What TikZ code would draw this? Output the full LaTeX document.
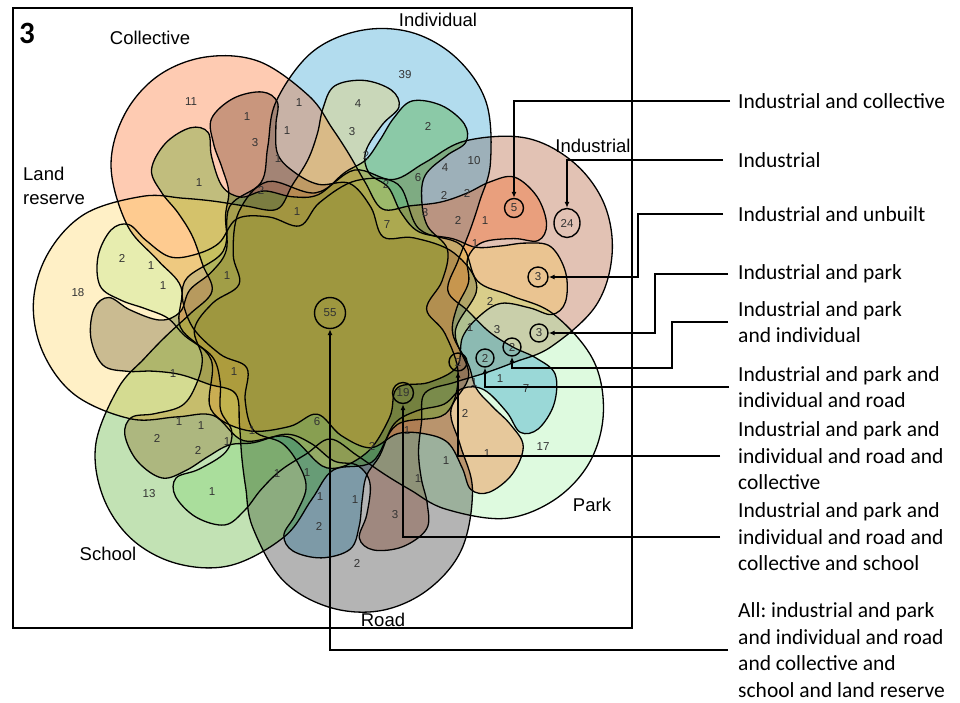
\documentclass[tikz,border=0pt]{standalone}
\usepackage{fontspec}
\setmainfont{Liberation Sans}
\newfontfamily\carlito{Carlito}
\usepackage{tikz}
\usetikzlibrary{arrows.meta,shapes.geometric}
\frenchspacing

\definecolor{indcol}{RGB}{158,52,5}
\definecolor{parkcol}{RGB}{145,240,148}
\definecolor{indivcol}{RGB}{0,138,198}
\definecolor{roadcol}{RGB}{5,5,5}
\definecolor{collcol}{RGB}{252,82,0}
\definecolor{schoolcol}{RGB}{52,158,5}
\definecolor{landcol}{RGB}{255,205,65}

% one set of the flower: lobe along +x, dip near the middle, two hooked fingers clockwise
\def\petalpath{plot[smooth cycle,tension=0.6] coordinates {(0:297) (10:289) (20:266) (30:223) (36:182) (43:152) (58:150) (74:126) (92:150)
 (108:140) (124:116) (137:97) (150:118) (162:136) (175:134) (184:150) (188:172) (186:200) (184:222) (187:236) (194:240) (201:232)
 (204:210) (206:185) (209:162) (216:146) (227:124) (239:127) (249:143) (258:150) (261:170) (258:200) (255:222) (258:236) (265:240)
 (272:232) (275:210) (277:185) (281:160) (289:138) (299:121) (310:140) (318:165) (324:190) (330:223) (340:266) (350:289)}}

\tikzset{
  setlabel/.style={font=\fontsize{18.5}{24}\selectfont,inner sep=0pt},
  count/.style={font=\fontsize{11.5}{12}\selectfont,text=black!80,inner sep=0pt},
  ringed/.style={circle,draw,line width=1.4pt,inner sep=0pt,minimum size=#1,font=\fontsize{11.5}{12}\selectfont,text=black!80},
  ringed/.default=18pt,
  callout/.style={line width=1.4pt,->,>={Latex[length=6pt,width=5pt]}},
  legend/.style={font=\carlito\fontsize{21.5}{26.5}\selectfont,anchor=west,align=left,inner sep=0pt},
}

\begin{document}
\begin{tikzpicture}[x=1pt,y=-1pt]
\useasboundingbox (0,0) rectangle (960,702);
\draw[line width=1.2pt] (13,8) rectangle (632,628);

% the seven sets
\begin{scope}[shift={(330,318)}]
\foreach \a/\c in {22.6/indcol,-28.9/parkcol,74/indivcol,-80.3/roadcol,125.4/collcol,-131.7/schoolcol,176.9/landcol}
  \fill[\c,fill opacity=0.3,y=1pt,rotate=\a] \petalpath;
\foreach \a in {22.6,-28.9,74,-80.3,125.4,-131.7,176.9}
  \draw[line width=1.3pt,y=1pt,rotate=\a] \petalpath;
\end{scope}

% counts
\foreach \x/\y/\n [count=\i] in {191/102/11,299/103/1,247/117/1,287/131/1,255/143/3,278/159/1,199/183/1,261/190/2,297/212/1,
  358/104/4,352/132/3,405/75/39,428/126/2,366/155/2,445/168/4,474/161/10,418/178/6,386/184/2,444/195/2,467/193/2,
  425/213/3,458/220/2,485/221/1,387/225/7,475/244/1,122/258/2,151/266/1,163/286/1,227/276/1,78/293/18,173/374/1,
  234/372/1,490/301/2,470/328/1,497/330/3,474/383/1,500/379/1,526/389/7,465/413/2,487/454/1,543/447/17,446/461/1,
  179/422/1,201/426/1,157/438/2,198/450/2,227/442/1,252/431/1,317/422/6,277/474/1,307/473/1,320/497/1,355/500/1,
  149/494/13,212/492/1,319/526/2,357/563/2,407/431/1,372/446/2,418/479/1,395/515/3}
  \node[count] (n\i) at (\x,\y) {\n};

\node[ringed=19pt] (c5) at (514,208) {5};
\node[ringed,ellipse,minimum width=26pt,minimum height=29pt] (c24) at (567,223) {24};
\node[ringed=20pt] (c3a) at (538,277) {3};
\node[ringed] (c3b) at (539,333) {3};
\node[ringed] (c2a) at (512,347) {2};
\node[ringed] (c2b) at (485,358) {2};
\node[ringed] (c2c) at (458,362) {2};
\node[ringed=21pt] (c19) at (403,393) {19};
\node[ringed=31pt] (c55) at (330,313) {55};

% set names
\node[font=\carlito\bfseries\fontsize{31}{31}\selectfont,inner sep=0pt] (panel) at (27,33) {3};
\node[setlabel] (collective) at (150,38) {Collective};
\node[setlabel] (individual) at (438,20) {Individual};
\node[setlabel] (industrial) at (593,146) {Industrial};
\node[setlabel,anchor=west,align=left] (land) at (23,186) {Land\\reserve};
\node[setlabel] (park) at (592,505) {Park};
\node[setlabel] (road) at (383,620) {Road};
\node[setlabel] (school) at (108,554) {School};

% legend
\node[legend] (l1) at (738,101) {Industrial and collective};
\node[legend] (l2) at (738,160) {Industrial};
\node[legend] (l3) at (738,214) {Industrial and unbuilt};
\node[legend] (l4) at (738,274) {Industrial and park};
\node[legend] (l5) at (738,322) {Industrial and park\\and individual};
\node[legend] (l6) at (738,387) {Industrial and park and\\individual and road};
\node[legend] (l7) at (738,456) {Industrial and park and\\individual and road and\\collective};
\node[legend] (l8) at (738,537) {Industrial and park and\\individual and road and\\collective and school};
\node[legend] (l9) at (738,650) {All: industrial and park\\and individual and road\\and collective and\\school and land reserve};

\draw[callout] ([xshift=-8pt]l1.west) -| (c5.north);
\draw[callout] ([xshift=-15pt]l2.west) -| (c24.north);
\draw[callout] ([xshift=-15pt]l3.west) -- ++(-85,0) |- (c3a.east);
\draw[callout] ([xshift=-10pt]l4.west) -- ++(-73,0) |- (c3b.east);
\draw[callout] ([xshift=-10pt]l5.west) -- ++(-56,0) -- ++(0,46) -| (c2a.south);
\draw[callout] ([xshift=-9pt]l6.west) -| (c2b.south);
\draw[callout] ([xshift=-18pt]l7.west) -| (c2c.south);
\draw[callout] ([xshift=-18pt]l8.west) -| (c19.south);
\draw[callout] ([xshift=-10pt]l9.west) -| (c55.south);
\end{tikzpicture}
\end{document}
